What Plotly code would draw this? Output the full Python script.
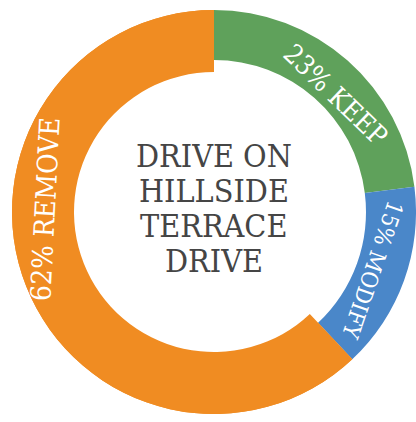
import math
import plotly.graph_objects as go

# Segment data
labels = ["KEEP", "MODIFY", "REMOVE"]
shares = [23, 15, 62]
colors = ["#5FA15B", "#4A87C9", "#F08C22"]
title_lines = ["DRIVE ON", "HILLSIDE", "TERRACE", "DRIVE"]

# Canvas and ring geometry (pixels)
W, H = 416, 422
CX, CY = 214, 212
R = 202
HOLE_THIN = 152 / R      # keep / modify ring
HOLE_THICK = 140 / R     # remove ring is drawn thicker

# Label placement along the ring (degrees clockwise from 12 o'clock)
label_angles = [46, 110, 271]
label_rot = [44, 109, -87]
label_sizes = [27, 23, 28]
LABEL_R = 169

LABEL_FONT = "DejaVu Serif Condensed, DejaVu Serif, serif"

domain = dict(
    x=[(CX - R) / W, min(1.0, (CX + R) / W)],
    y=[(H - CY - R) / H, (H - CY + R) / H],
)

fig = go.Figure()

fig.add_trace(go.Pie(
    labels=labels, values=shares, sort=False, direction="clockwise", rotation=0,
    hole=HOLE_THIN, marker=dict(colors=colors, line=dict(width=0)),
    textinfo="none", hoverinfo="skip", showlegend=False, domain=domain,
))

# second ring only shows the REMOVE slice, with a larger inner extent
thick_colors = [c if l == "REMOVE" else "rgba(0,0,0,0)" for l, c in zip(labels, colors)]
fig.add_trace(go.Pie(
    labels=labels, values=shares, sort=False, direction="clockwise", rotation=0,
    hole=HOLE_THICK, marker=dict(colors=thick_colors, line=dict(width=0)),
    textinfo="none", hoverinfo="skip", showlegend=False, domain=domain,
))

annotations = []
for lab, val, ang, rot, size in zip(labels, shares, label_angles, label_rot, label_sizes):
    t = math.radians(ang)
    px = CX + LABEL_R * math.sin(t)
    py = CY - LABEL_R * math.cos(t)
    annotations.append(dict(
        x=px / W, y=1 - py / H, xref="paper", yref="paper",
        text=f"{val}% {lab}", textangle=rot, showarrow=False,
        xanchor="center", yanchor="middle",
        font=dict(family=LABEL_FONT, size=size, color="white"),
    ))

LINE_GAP = 35
for i, line in enumerate(title_lines):
    py = 208 + (i - (len(title_lines) - 1) / 2) * LINE_GAP
    annotations.append(dict(
        x=CX / W, y=1 - py / H, xref="paper", yref="paper",
        text=line, showarrow=False, xanchor="center", yanchor="middle",
        font=dict(family=LABEL_FONT, size=32, color="#454545"),
    ))

fig.update_layout(
    width=W, height=H, margin=dict(l=0, r=0, t=0, b=0),
    paper_bgcolor="white", plot_bgcolor="white",
    annotations=annotations, showlegend=False,
)

fig.write_html("out.html")
